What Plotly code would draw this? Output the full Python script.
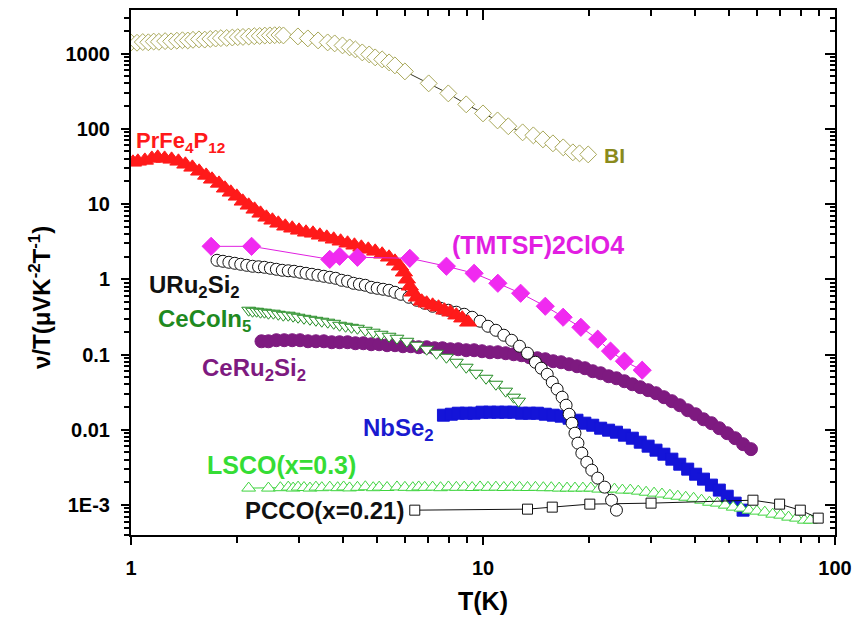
import plotly.graph_objects as go

# ---------------- data ----------------
BI_T = [1.00, 1.04, 1.08, 1.12, 1.16, 1.20, 1.25, 1.30, 1.35, 1.40, 1.45, 1.50, 1.56, 1.62, 1.68, 1.74,
        1.80, 1.87, 1.94, 2.01, 2.08, 2.16, 2.24, 2.32, 2.40, 2.48, 2.56, 2.64, 2.71, 2.98, 3.18, 3.40,
        3.62, 3.79, 3.99, 4.18, 4.34, 4.54, 4.75, 4.94, 5.17, 5.41, 5.62, 6.00, 7.01, 7.97, 8.96, 10.0,
        11.0, 11.8, 12.96, 13.9, 14.8, 15.8, 16.9, 18.0, 18.8, 19.9]
BI_v = [1400, 1390, 1420, 1410, 1440, 1430, 1460, 1450, 1480, 1500, 1490, 1520, 1540, 1530, 1560, 1580,
        1600, 1610, 1630, 1650, 1660, 1680, 1700, 1710, 1730, 1740, 1750, 1760, 1738, 1687, 1587, 1493,
        1404, 1362, 1281, 1205, 1133, 1034, 972, 888, 835, 762, 695, 578, 401, 295, 211, 160,
        129, 108, 89.6, 81.7, 72.3, 64, 56.6, 48.6, 47.1, 45.6]

PR_T = [1.013, 1.046, 1.095, 1.146, 1.191, 1.246, 1.304, 1.364, 1.427, 1.494, 1.562, 1.635, 1.699, 1.778,
        1.849, 1.921, 1.998, 2.077, 2.159, 2.244, 2.333, 2.425, 2.522, 2.621, 2.743, 2.871, 3.002, 3.142,
        3.288, 3.440, 3.599, 3.766, 3.940, 4.123, 4.313, 4.513, 4.722, 4.940, 5.170, 5.409, 5.623, 5.808,
        5.961, 6.077, 6.196, 6.318, 6.484, 6.697, 6.918, 7.192, 7.475, 7.771, 8.078, 8.400, 8.730, 9.077]
PR_v = [35.8, 36.9, 38.0, 40.4, 41.7, 40.4, 39.2, 36.9, 33.7, 30.7, 27.2, 24.0, 21.3, 18.8,
        16.2, 14.3, 12.65, 10.86, 9.61, 8.50, 7.52, 6.66, 6.08, 5.54, 5.06, 4.76, 4.47, 4.21,
        4.08, 3.84, 3.61, 3.40, 3.20, 3.01, 2.83, 2.66, 2.50, 2.35, 2.15, 1.96, 1.73, 1.49,
        1.24, 1.00, 0.807, 0.672, 0.577, 0.510, 0.480, 0.451, 0.425, 0.388, 0.365, 0.333, 0.304, 0.268]

TM_T = [1.689, 2.201, 3.670, 3.914, 4.398, 6.196, 7.872, 9.435, 11.02, 12.79, 15.03, 16.89, 18.97,
        21.18, 23.03, 25.22, 28.33]
TM_v = [2.74, 2.74, 1.84, 2.02, 1.96, 1.90, 1.49, 1.20, 0.885, 0.652, 0.438, 0.313, 0.230,
        0.160, 0.111, 0.0815, 0.0619]

UR_T = [1.755, 1.825, 1.897, 1.972, 2.050, 2.132, 2.215, 2.303, 2.394, 2.489, 2.588, 2.690, 2.797, 2.907,
        3.022, 3.142, 3.266, 3.396, 3.530, 3.670, 3.815, 3.966, 4.123, 4.285, 4.455, 4.631, 4.814, 5.005,
        5.203, 5.409, 5.623, 5.845, 6.156, 6.484, 6.829, 7.192, 7.574, 7.975, 8.400, 8.845, 9.314, 9.808,
        10.33, 10.88, 11.46, 12.06, 12.70, 13.38, 14.09, 14.64, 15.22, 15.73, 16.24, 16.78, 17.22, 17.56,
        17.90, 18.25, 18.61, 19.09, 19.72, 20.37, 21.18, 22.16, 23.18, 23.94]
UR_v = [1.788, 1.734, 1.682, 1.631, 1.582, 1.534, 1.488, 1.466, 1.443, 1.400, 1.358, 1.317, 1.297, 1.277,
        1.239, 1.201, 1.165, 1.130, 1.096, 1.063, 1.031, 0.970, 0.941, 0.885, 0.858, 0.832, 0.783, 0.759,
        0.737, 0.714, 0.672, 0.632, 0.577, 0.526, 0.480, 0.438, 0.412, 0.388, 0.365, 0.343, 0.313, 0.277,
        0.2375, 0.210, 0.1805, 0.1548, 0.1289, 0.1041, 0.0790, 0.0658, 0.0547, 0.0429, 0.0346, 0.0271,
        0.0212, 0.0161, 0.01224, 0.00901, 0.00664, 0.00489, 0.00371, 0.00291, 0.00228, 0.00173, 0.00116,
        0.000855]

CC_T = [2.159, 2.215, 2.274, 2.333, 2.394, 2.457, 2.538, 2.621, 2.708, 2.797, 2.888, 2.983, 3.101, 3.224,
        3.352, 3.484, 3.622, 3.766, 3.914, 4.070, 4.231, 4.398, 4.631, 4.877, 5.136, 5.409, 5.696, 6.077,
        6.484, 6.918, 7.379, 7.872, 8.400, 8.961, 9.557, 10.20, 10.88, 11.60, 12.22, 12.62]
CC_v = [0.388, 0.376, 0.376, 0.365, 0.365, 0.354, 0.354, 0.343, 0.333, 0.333, 0.323, 0.313, 0.303, 0.294,
        0.285, 0.277, 0.269, 0.260, 0.245, 0.2375, 0.230, 0.2235, 0.210, 0.198, 0.186, 0.175, 0.1646, 0.150,
        0.133, 0.1176, 0.1041, 0.0921, 0.0790, 0.0678, 0.0564, 0.0484, 0.0403, 0.0326, 0.0271, 0.0240]

CR_T = [2.348, 2.457, 2.588, 2.725, 2.871, 3.022, 3.183, 3.352, 3.530, 3.717, 3.914, 4.123, 4.341, 4.572,
        4.814, 5.070, 5.339, 5.623, 5.921, 6.236, 6.567, 6.918, 7.285, 7.670, 8.078, 8.507, 8.961, 9.435,
        9.936, 10.46, 11.02, 11.60, 12.22, 12.87, 13.55, 14.27, 15.03, 15.83, 16.67, 17.56, 18.49, 19.47,
        20.50, 21.59, 22.74, 23.94, 25.22, 26.56, 27.97, 29.45, 31.01, 32.66, 34.40, 36.22, 38.15, 40.18,
        42.31, 44.56, 46.92, 49.41, 52.04, 54.81, 57.71]
CR_v = [0.150, 0.150, 0.155, 0.155, 0.155, 0.155, 0.150, 0.150, 0.150, 0.1457, 0.1457, 0.1457, 0.1413,
        0.1413, 0.137, 0.137, 0.133, 0.133, 0.1289, 0.1289, 0.125, 0.125, 0.1213, 0.1213, 0.1176, 0.1176,
        0.1141, 0.1141, 0.1106, 0.1073, 0.1073, 0.1041, 0.1009, 0.0979, 0.0921, 0.0893, 0.0866, 0.0815,
        0.0790, 0.0743, 0.0699, 0.0658, 0.0600, 0.0564, 0.0515, 0.0484, 0.0442, 0.0403, 0.0368, 0.0336,
        0.0306, 0.0271, 0.0240, 0.0212, 0.0182, 0.0161, 0.0138, 0.01224, 0.0105, 0.00901, 0.00773,
        0.00644, 0.00553]

NB_T = [7.720, 8.130, 8.507, 8.961, 9.435, 9.936, 10.46, 11.02, 11.60, 12.22, 12.87, 13.55, 14.27, 15.03,
        15.83, 16.67, 17.56, 18.49, 19.47, 20.50, 21.59, 22.74, 23.94, 25.22, 26.56, 27.97, 29.45, 31.01,
        32.66, 34.40, 36.22, 38.15, 40.18, 42.31, 44.56, 46.92, 49.41, 52.04, 54.81]
NB_v = [0.01563, 0.0161, 0.0166, 0.0166, 0.0166, 0.01713, 0.01713, 0.01713, 0.01713, 0.01713, 0.0166,
        0.0166, 0.0166, 0.0161, 0.01563, 0.01516, 0.01426, 0.0134, 0.01224, 0.0115, 0.0105, 0.00988,
        0.00929, 0.00848, 0.00773, 0.00684, 0.00606, 0.00536, 0.00474, 0.00407, 0.00349, 0.00300,
        0.00257, 0.00221, 0.00184, 0.00158, 0.00131, 0.00106, 0.000855]

LS_T = [2.159, 2.457, 2.656, 2.797, 2.888, 2.983, 3.101, 3.224, 3.352, 3.484, 3.670, 3.865, 4.018, 4.177,
        4.398, 4.631, 4.877, 5.070, 5.339, 5.696, 5.999, 6.318, 6.567, 6.829, 7.192, 7.574, 7.975, 8.400,
        8.845, 9.314, 9.808, 10.33, 10.88, 11.46, 12.06, 12.70, 13.38, 14.09, 14.84, 15.63, 16.46, 17.33,
        18.25, 19.22, 20.24, 21.31, 22.44, 23.63, 24.89, 26.21, 27.61, 29.07, 30.62, 32.24, 33.96, 35.76,
        37.66, 39.66, 41.77, 43.98, 46.31, 48.77, 51.36, 54.09, 56.96, 59.99, 63.17, 66.53, 70.06, 73.79,
        77.71, 81.83, 85.10]
LS_v = [0.00168, 0.00168, 0.00170, 0.00173, 0.00168, 0.00173, 0.00171, 0.00168, 0.00173, 0.00170,
        0.00173, 0.00170, 0.00174, 0.00169, 0.00172, 0.00175, 0.00170, 0.00173, 0.00171, 0.00174,
        0.00172, 0.00170, 0.00174, 0.00172, 0.00173, 0.00170, 0.00174, 0.00172, 0.00173, 0.00171,
        0.00174, 0.00172, 0.00173, 0.00171, 0.00173, 0.00172, 0.00171, 0.00172, 0.00170, 0.00170,
        0.00168, 0.00168, 0.00168, 0.00168, 0.00168, 0.00163, 0.00163, 0.00163, 0.00158, 0.00158,
        0.00153, 0.00148, 0.00144, 0.00140, 0.00135, 0.00131, 0.00127, 0.00123, 0.00116, 0.00109,
        0.00106, 0.000997, 0.000938, 0.000910, 0.000855, 0.000830, 0.000805, 0.000757, 0.000734,
        0.000691, 0.000670, 0.000630, 0.000630]

PC_T = [6.40, 13.38, 15.73, 20.11, 30.02, 58.47, 69.6, 79.7, 89.6]
PC_v = [0.000855, 0.000882, 0.000938, 0.001028, 0.00106, 0.00116, 0.001028, 0.000855, 0.00067]

Y_TICKS = [0.001, 0.01, 0.1, 1, 10, 100, 1000]
Y_TICKTEXT = ["1E-3", "0.01", "0.1", "1", "10", "100", "1000"]

FONT = "Liberation Sans, Arial, Helvetica, sans-serif"

# unlabeled minor tick positions on the y axis (digits 2..9 of each decade)
y_minor = [m * d for d in (0.0001, 0.001, 0.01, 0.1, 1, 10, 100, 1000) for m in range(2, 10)]

XR = [0, 2]
YR = [-3.398, 3.578]

fig = go.Figure()


def add(x, y, mode, symbol, size, mcolor, fill, lcolor=None, lw=1, mlw=1):
    fig.add_trace(go.Scatter(
        x=x, y=y, mode=mode, showlegend=False, hoverinfo="skip",
        line=dict(color=lcolor or mcolor, width=lw),
        marker=dict(symbol=symbol, size=size, color=fill,
                    line=dict(color=mcolor, width=mlw))))


add(NB_T, NB_v, "markers", "square", 12, "#1414d8", "#1414d8")
add(CR_T, CR_v, "markers", "circle", 13, "#7e1a80", "#7e1a80")
add(CC_T, CC_v, "lines+markers", "triangle-down", 12, "#238c23", "white", "#1f7a1f", 1, 1)
add(LS_T, LS_v, "lines+markers", "triangle-up", 12, "#3fd43f", "white", "#3fd43f", 1, 1)
add(PC_T, PC_v, "lines+markers", "square", 10, "#111111", "white", "#111111", 1, 1)
add(UR_T, UR_v, "lines+markers", "circle", 12, "#111111", "white", "#111111", 1, 1)
add(PR_T, PR_v, "markers", "triangle-up", 15, "#ff1a1a", "#ff1a1a")
add(TM_T, TM_v, "lines+markers", "diamond", 14, "#f02af0", "#f02af0", "#e020e0", 1, 1)
add(BI_T, BI_v, "lines+markers", "diamond", 13, "#a9a85a", "white", "#333322", 1, 1)

# invisible traces that bring up the tick-carrying overlay axes
for xa, ya in (("x2", "y2"), ("x3", "y3")):
    fig.add_trace(go.Scatter(x=[10], y=[1], xaxis=xa, yaxis=ya, mode="markers",
                             marker=dict(opacity=0), showlegend=False, hoverinfo="skip"))

tickfont = dict(family=FONT, size=20, color="black", weight="bold")
base = dict(type="log", showgrid=False, zeroline=False)
frame = dict(showline=True, linecolor="black", linewidth=2, tickcolor="black", tickwidth=2)


def minor_d1(direction, length):
    return dict(ticks=direction, dtick="D1", ticklen=length, tickwidth=1.5,
                tickcolor="black", showgrid=False)


fig.update_layout(
    width=862, height=619, autosize=False,
    margin=dict(l=131, r=19, t=10, b=84),
    paper_bgcolor="white", plot_bgcolor="white",
    # main axes: labels only (transparent long ticks push the labels outward)
    xaxis=dict(**base, range=XR, tickmode="linear", tick0=0, dtick=1, showline=False,
               ticks="outside", ticklen=15, tickcolor="rgba(0,0,0,0)", tickfont=tickfont),
    yaxis=dict(**base, range=YR, tickmode="array", tickvals=Y_TICKS, ticktext=Y_TICKTEXT,
               showline=False, ticks="outside", ticklen=16, tickcolor="rgba(0,0,0,0)",
               tickfont=tickfont),
    # top / right: inward ticks
    xaxis2=dict(**base, **frame, range=XR, overlaying="x", side="top", anchor="y2",
                tickmode="linear", tick0=0, dtick=1, ticks="inside", ticklen=10,
                showticklabels=False, minor=minor_d1("inside", 6)),
    yaxis2=dict(**base, **frame, range=YR, overlaying="y", side="right", anchor="x2",
                tickmode="linear", tick0=0, dtick=1, ticks="inside", ticklen=10,
                showticklabels=False, minor=minor_d1("inside", 5)),
    # bottom / left: outward ticks
    xaxis3=dict(**base, **frame, range=XR, overlaying="x", side="bottom", anchor="y3",
                tickmode="linear", tick0=0, dtick=1, ticks="outside", ticklen=8,
                showticklabels=False, minor=minor_d1("outside", 6)),
    yaxis3=dict(**base, **frame, range=YR, overlaying="y", side="left", anchor="x3",
                tickmode="linear", tick0=0, dtick=1, ticks="outside", ticklen=8,
                showticklabels=False,
                minor=dict(ticks="outside", tickmode="array", tickvals=y_minor, ticklen=5,
                           tickwidth=1.5, tickcolor="black", showgrid=False)),
)

PW, PH, L, B = 712.0, 525.0, 131.0, 535.0


def label(text, px, py, color, size=24, xanchor="left", angle=0):
    fig.add_annotation(text=text, xref="paper", yref="paper",
                       x=(px - L) / PW, y=(B - py) / PH, xanchor=xanchor, yanchor="middle",
                       showarrow=False, textangle=angle,
                       font=dict(family=FONT, size=size, color=color, weight="bold"))


label("PrFe<sub>4</sub>P<sub>12</sub>", 134, 142, "#ff1a1a", 22)
label("URu<sub>2</sub>Si<sub>2</sub>", 147, 286, "#111111", 24)
label("CeCoIn<sub>5</sub>", 156, 320, "#1f8a1f", 24)
label("CeRu<sub>2</sub>Si<sub>2</sub>", 201, 369, "#7e1a80", 24)
label("NbSe<sub>2</sub>", 364, 429, "#1a1ad0", 24)
label("LSCO(x=0.3)", 206, 465, "#35dd35", 25)
label("PCCO(x=0.21)", 244, 510, "#111111", 24)
label("(TMTSF)2ClO4", 454, 245, "#e21ee2", 25)
label("BI", 607, 155, "#8a8a1c", 21)

label("T(K)", 487, 601, "black", 25, xanchor="center")
label("ν/T(μVK<sup>-2</sup>T<sup>-1</sup>)", 39, 298, "black", 24, xanchor="center", angle=-90)

fig.write_html("out.html")
